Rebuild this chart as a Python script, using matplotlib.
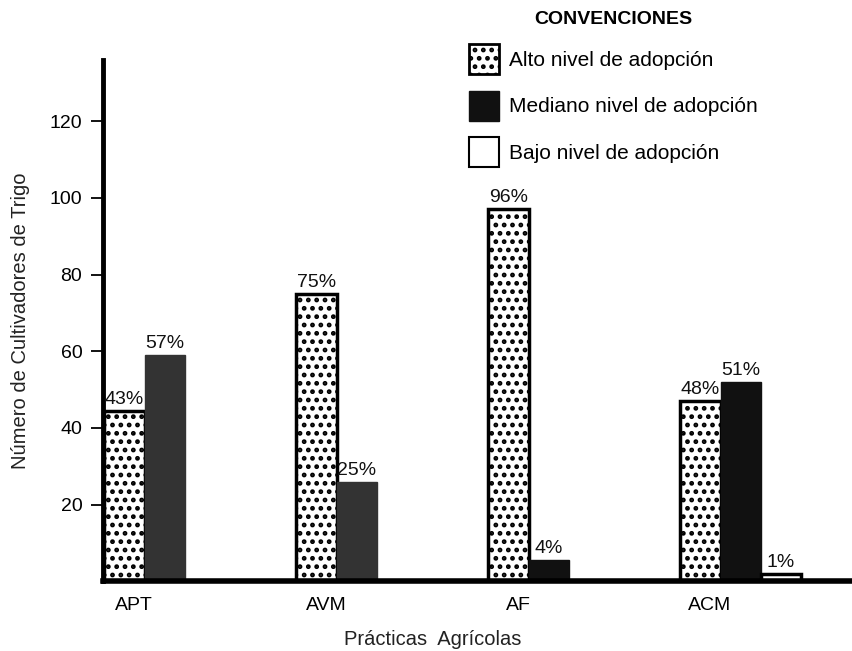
import numpy as np
import matplotlib
matplotlib.use('Agg')
import matplotlib.pyplot as plt
from matplotlib.patches import Patch

plt.rcParams['font.family'] = ['Liberation Sans', 'DejaVu Sans']
plt.rcParams['hatch.linewidth'] = 2.2

# =============================================================================
# Data
# =============================================================================
practicas = ['APT', 'AVM', 'AF', 'ACM']
alto = [44.5, 75, 97, 47]
mediano = [59, 26, 5.5, 52]
bajo = [0, 0, 0, 2]
alto_pct = [43, 75, 96, 48]
mediano_pct = [57, 25, 4, 51]
bajo_pct = [0, 0, 0, 1]
mediano_colors = ['#333333', '#333333', '#111111', '#111111']

x = np.arange(len(practicas))
w = 0.21

fig = plt.figure(figsize=(8.52, 6.51), dpi=100)
ax = fig.add_axes([0.121, 0.107, 0.879, 0.801])

b1 = ax.bar(x, alto, w, color='white', edgecolor='black', linewidth=2.5, hatch='..')
b2 = ax.bar(x + w, mediano, w, color=mediano_colors, edgecolor=mediano_colors, linewidth=1)
b3 = ax.bar(x + 2 * w, bajo, w, color='white', edgecolor='black', linewidth=2.5)

# percentage labels above bars
for bars, pcts in [(b1, alto_pct), (b2, mediano_pct), (b3, bajo_pct)]:
    for rect, p in zip(bars, pcts):
        if p == 0:
            continue
        ax.text(rect.get_x() + rect.get_width() / 2, rect.get_height() + 0.8, '%d%%' % p,
                ha='center', va='bottom', fontsize=14, color='#111111')

ax.set_xlim(-0.112, 3.79)
ax.set_ylim(0, 136)
ax.set_yticks([20, 40, 60, 80, 100, 120])
ax.tick_params(axis='y', direction='out', length=9, width=1.3, labelsize=14, pad=6)
ax.set_xticks(x + 0.05)
ax.set_xticklabels(practicas, fontsize=14)
ax.tick_params(axis='x', length=0, pad=11)

for s in ['top', 'right']:
    ax.spines[s].set_visible(False)
ax.spines['left'].set_linewidth(3.5)
ax.spines['bottom'].set_linewidth(4)

ax.set_ylabel('Número de Cultivadores de Trigo', fontsize=14.5, color='#222222')
ax.yaxis.set_label_coords(-0.097, 0.5)
ax.set_xlabel('Prácticas  Agrícolas', fontsize=14.5, color='#222222')
ax.xaxis.set_label_coords(0.44, -0.094)

handles = [Patch(facecolor='white', edgecolor='black', hatch='..', linewidth=2),
           Patch(facecolor='#111111', edgecolor='#111111'),
           Patch(facecolor='white', edgecolor='black', linewidth=1.5)]
labels = ['Alto nivel de adopción', 'Mediano nivel de adopción', 'Bajo nivel de adopción']
leg = fig.legend(handles, labels, loc='upper left', bbox_to_anchor=(0.528, 1.012),
                 title='CONVENCIONES', fontsize=15, title_fontsize=14, frameon=False,
                 handlelength=1.45, handleheight=1.85, labelspacing=0.78, handletextpad=0.5)
leg.get_title().set_fontweight('bold')

fig.savefig('out.png', dpi=100)
